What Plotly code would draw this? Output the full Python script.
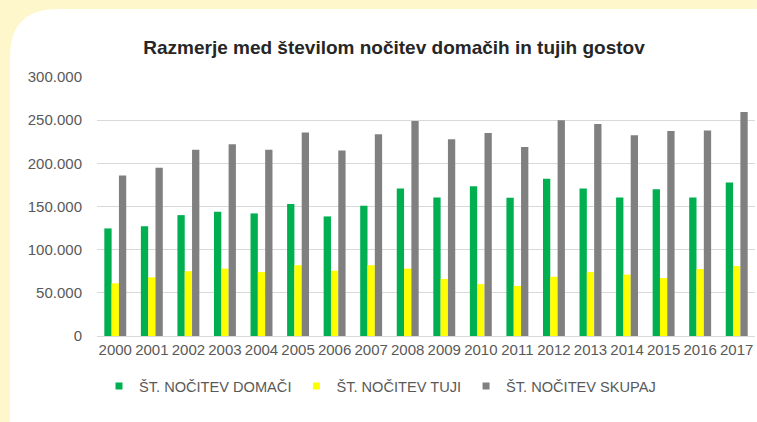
import plotly.graph_objects as go

# data
years = [str(y) for y in range(2000, 2018)]
domaci = [124600, 127000, 140000, 144000, 142000, 153000, 138500, 151000, 170800,
          160400, 173500, 160000, 182000, 170800, 160400, 170000, 160400, 177800]
tuji = [61000, 68000, 75000, 78000, 74000, 82000, 75600, 82000, 78000,
        66000, 60000, 58000, 68600, 74000, 71000, 67000, 77500, 81000]
skupaj = [186000, 195000, 215600, 222000, 215600, 235600, 215000, 233700, 249000,
          228000, 235000, 219000, 250000, 245600, 232500, 237500, 238000, 259500]

names = ["ŠT. NOČITEV DOMAČI", "ŠT. NOČITEV TUJI", "ŠT. NOČITEV SKUPAJ"]
colors = ["#00B050", "#FFFF00", "#808080"]

W, H = 757, 422
L, R, T, B = 97, 2, 77, 86

fig = go.Figure()
for vals, name, col in zip([domaci, tuji, skupaj], names, colors):
    fig.add_trace(go.Bar(x=years, y=vals, name=name, marker_color=col,
                         marker_line_width=0, showlegend=False, legendgroup=name))
# small square legend keys
for name, col in zip(names, colors):
    fig.add_trace(go.Scatter(x=[None], y=[None], mode="markers", name=name,
                             marker=dict(symbol="square", size=7, color=col),
                             legendgroup=name))

# pale yellow frame with rounded top-left corner of the white card
def px(x, y):
    return (x - L) / (W - L - R), (H - B - y) / (H - T - B)

pts = [(0, 0), (W, 0), (W, 9), (58, 9)]
p = "M{:.4f},{:.4f}".format(*px(*pts[0]))
for q in pts[1:]:
    p += " L{:.4f},{:.4f}".format(*px(*q))
c = px(10, 9)
e = px(10, 57)
p += " Q{:.4f},{:.4f} {:.4f},{:.4f}".format(*c, *e)
for q in [(10, H), (0, H)]:
    p += " L{:.4f},{:.4f}".format(*px(*q))
p += " Z"

fig.add_shape(type="path", path=p, xref="paper", yref="paper",
              fillcolor="#FFF7CC", line_width=0, layer="below")

fig.update_layout(
    width=W, height=H,
    margin=dict(l=L, r=R, t=T, b=B),
    paper_bgcolor="white", plot_bgcolor="white",
    separators=",.",
    barmode="group", bargap=0.4, bargroupgap=0,
    font=dict(family="Liberation Sans, Arial, sans-serif", color="#595959"),
    title=dict(text="<b>Razmerje med številom nočitev domačih in tujih gostov</b>",
               font=dict(size=19, color="#262626"),
               x=394 / W, xanchor="center", xref="container",
               y=1 - 47 / H, yanchor="middle", yref="container"),
    legend=dict(orientation="h", xanchor="left", x=(99 - L) / (W - L - R),
                yanchor="middle", y=(H - B - 386) / (H - T - B),
                font=dict(size=14.6, color="#595959"),
                itemclick=False, tracegroupgap=0),
)
fig.update_xaxes(showgrid=False, showline=True, linecolor="#D9D9D9", linewidth=1,
                 ticks="", tickfont=dict(size=15, color="#595959"), tickangle=0,
                 fixedrange=True)
fig.update_yaxes(range=[0, 300000], dtick=50000, tickformat=",d",
                 gridcolor="#D9D9D9", gridwidth=1, zeroline=False,
                 showline=False, ticks="", ticklabelstandoff=14,
                 tickfont=dict(size=15, color="#595959"), fixedrange=True)

fig.write_html("out.html", config={"displayModeBar": False},
               post_script="document.body.style.margin='0px';document.body.style.overflow='hidden';")
